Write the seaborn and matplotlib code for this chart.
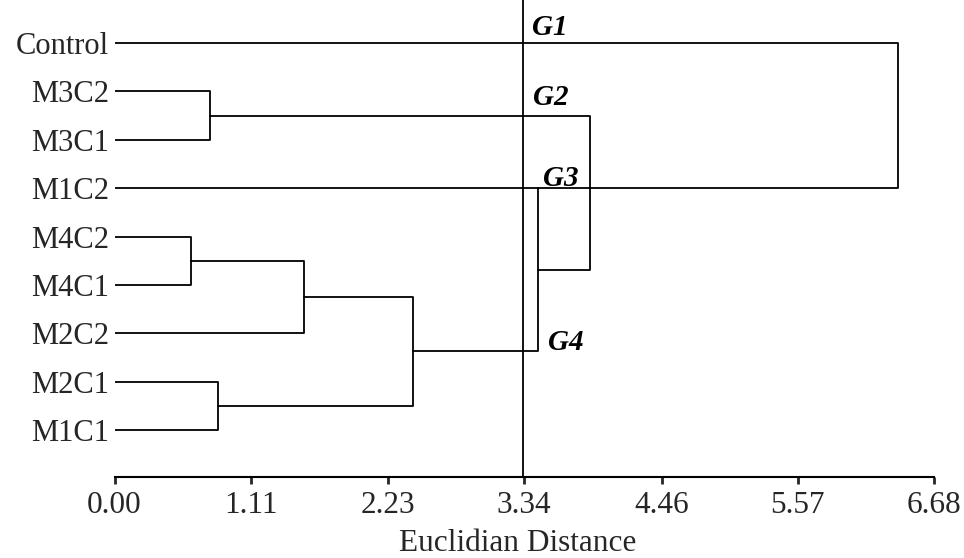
import numpy as np
import pandas as pd
import matplotlib
matplotlib.use("Agg")
import matplotlib.pyplot as plt
import seaborn as sns

# ---------------- data ----------------
leaves = ["Control", "M3C2", "M3C1", "M1C2", "M4C2", "M4C1", "M2C2", "M2C1", "M1C1"]
# agglomeration steps: child a, child b (leaf index or cluster id = 9 + step), distance
merge_a = [4, 1, 7, 9, 12, 3, 10, 0]
merge_b = [5, 2, 8, 6, 11, 13, 14, 15]
merge_h = [0.623, 0.778, 0.843, 1.544, 2.433, 3.451, 3.875, 6.383]
trunk_row = "M1C2"          # the original draws the trunk along this row
cut_height = 3.327
group_names = ["G1", "G2", "G3", "G4"]
group_x = [3.40, 3.41, 3.49, 3.53]
group_row = [-0.17, 1.28, 2.95, 6.34]
tick_vals = [0.00, 1.11, 2.23, 3.34, 4.46, 5.57, 6.68]
tick_labels = ["0.00", "1.11", "2.23", "3.34", "4.46", "5.57", "6.68"]

# ---------------- build link segments ----------------
n = len(leaves)
node_x = {i: 0.0 for i in range(n)}
node_y = {i: float(i) for i in range(n)}
recs = []
sid = 0
for k, (a, b, h) in enumerate(zip(merge_a, merge_b, merge_h)):
    nid = n + k
    xa, ya = node_x[a], node_y[a]
    xb, yb = node_x[b], node_y[b]
    for x, y in zip([xa, h, h, xb], [ya, ya, yb, yb]):
        recs.append((sid, x, y))
    sid += 1
    node_x[nid] = h
    node_y[nid] = (ya + yb) / 2
    # cluster joining the trunk row: stem drawn on that row, row line runs through
    tr = leaves.index(trunk_row)
    if min(ya, yb) < tr < max(ya, yb) and k == len(merge_h) - 2:
        node_y[nid] = float(tr)
        recs.append((sid, merge_h[k - 1], float(tr)))
        recs.append((sid, h, float(tr)))
        sid += 1

df = pd.DataFrame(recs, columns=["seg", "x", "y"])

# ---------------- plot ----------------
sns.set_style("white")
plt.rcParams["font.family"] = ["Liberation Serif", "DejaVu Serif"]

fig = plt.figure(figsize=(9.64, 5.58), dpi=100)
ax = fig.add_axes([114.5 / 964, 81 / 558, (934 - 114.5) / 964, 477 / 558])

sns.lineplot(data=df, x="x", y="y", units="seg", estimator=None, sort=False,
             color="black", linewidth=1.3, ax=ax, legend=False)

ax.axvline(cut_height, color="black", linewidth=1.3)

for name, gx, gy in zip(group_names, group_x, group_row):
    ax.text(gx, gy, name, fontsize=21, fontweight="bold", fontstyle="italic",
            ha="left", va="baseline", color="black")

ax.set_xlim(0, 6.68)
ax.set_ylim(8.97, -0.89)
ax.set_yticks(range(n))
ax.set_yticklabels(leaves, fontsize=22)
ax.set_xticks(tick_vals)
ax.set_xticklabels(tick_labels, fontsize=22.5)
ax.tick_params(axis="y", length=0, pad=4)
ax.tick_params(axis="x", length=5, width=2, pad=5, direction="out", bottom=True)
ax.set_xlabel("Euclidian Distance", fontsize=22.5)
ax.xaxis.set_label_coords((518 - 114.5) / 819.5, -0.110)
ax.set_ylabel("")
for s in ["top", "right", "left"]:
    ax.spines[s].set_visible(False)
ax.spines["bottom"].set_linewidth(1.5)
ax.spines["bottom"].set_color("black")

fig.savefig("out.png", dpi=100)
